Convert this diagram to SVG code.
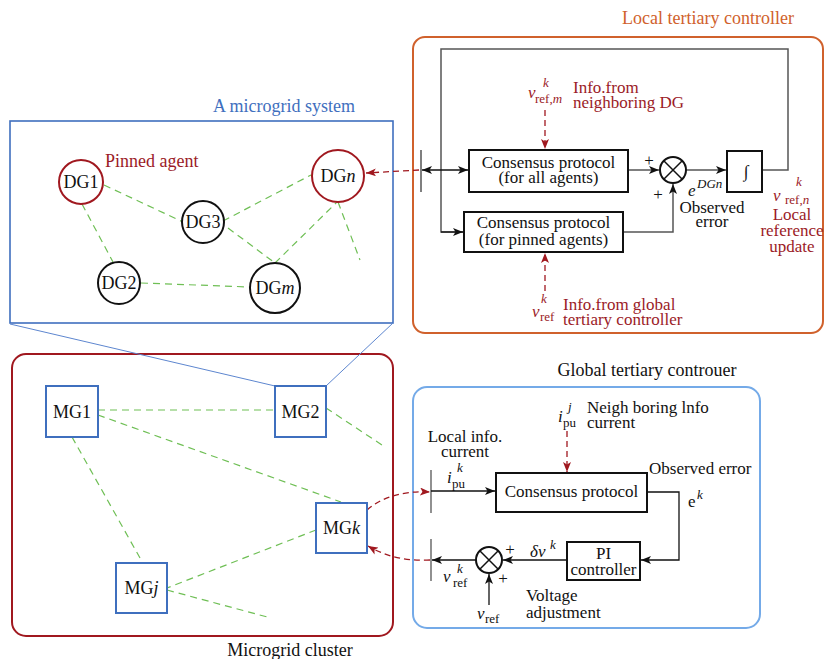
<svg xmlns="http://www.w3.org/2000/svg" width="824" height="659" viewBox="0 0 824 659">
  <style>
    text { font-family: "Liberation Serif", "Times New Roman", serif; font-size: 17px; fill: #111; }
    .red { fill: #9b1b27; }
    .orange { fill: #d0612c; }
    .blue { fill: #3f6fbe; }
    .it { font-style: italic; }
    .sm { font-size: 13px; }
    .big { font-size: 18px; }
    .mid { text-anchor: middle; }
    .blk { fill: #fff; stroke: #111; stroke-width: 2; }
    .dg { fill: #fff; stroke: #111; stroke-width: 2; }
    .dgp { fill: #fff; stroke: #a0181f; stroke-width: 2; }
    .mg { fill: #fff; stroke: #3f6fbe; stroke-width: 2; }
    .green { fill: none; stroke: #6fbf55; stroke-width: 1.2; stroke-dasharray: 7 5; }
    .wire { fill: none; stroke: #111; stroke-width: 1.3; }
    .grey { fill: none; stroke: #555; stroke-width: 1.5; }
    .rdash { fill: none; stroke: #a0181f; stroke-width: 1.3; stroke-dasharray: 6 4; }
    .thin { fill: none; stroke: #5d86cf; stroke-width: 1; }
  </style>
  <defs>
    <marker id="ah" viewBox="0 0 10 8" refX="10" refY="4" markerWidth="10" markerHeight="8" markerUnits="userSpaceOnUse" orient="auto-start-reverse">
      <path d="M0,0 L10,4 L0,8 L2.5,4 z" fill="#111"/>
    </marker>
    <marker id="ahr" viewBox="0 0 10 8" refX="10" refY="4" markerWidth="10" markerHeight="8" markerUnits="userSpaceOnUse" orient="auto-start-reverse">
      <path d="M0,0 L10,4 L0,8 L2.5,4 z" fill="#a0181f"/>
    </marker>
  </defs>

  <!-- frames and their titles -->
  <g id="frames">
    <rect x="413" y="37" width="410" height="296" rx="12" fill="none" stroke="#d0612c" stroke-width="2"/>
    <text x="708" y="24" class="orange mid big">Local tertiary controller</text>
    <rect x="10" y="121" width="383" height="202" fill="none" stroke="#3f6fbe" stroke-width="1.6"/>
    <text x="284" y="112" class="blue mid big">A microgrid system</text>
    <rect x="12" y="354" width="381" height="282" rx="14" fill="none" stroke="#a0181f" stroke-width="2"/>
    <text x="290" y="656" class="mid big">Microgrid cluster</text>
    <rect x="413" y="387" width="347" height="241" rx="14" fill="none" stroke="#74aae8" stroke-width="2"/>
    <text x="647" y="376" class="mid big">Global tertiary controuer</text>
  </g>

  <!-- connectors -->
  <g id="connectors">
    <!-- zoom lines from the microgrid system to MG2 -->
    <line x1="10" y1="324" x2="275" y2="386" class="thin"/>
    <line x1="393" y1="323" x2="326" y2="386" class="thin"/>

    <!-- DG communication graph -->
    <line x1="104" y1="185" x2="183" y2="222" class="green"/>
    <line x1="82" y1="204" x2="113" y2="262" class="green"/>
    <line x1="223" y1="221" x2="311" y2="175" class="green"/>
    <line x1="228" y1="228" x2="275" y2="263" class="green"/>
    <line x1="275" y1="263" x2="337" y2="202" class="green"/>
    <line x1="338" y1="202" x2="360" y2="260" class="green"/>
    <line x1="141" y1="283" x2="250" y2="287" class="green"/>

    <!-- MG communication graph -->
    <line x1="98" y1="410" x2="275" y2="410" class="green"/>
    <line x1="98" y1="415" x2="341" y2="502" class="green"/>
    <line x1="72" y1="437" x2="140" y2="558" class="green"/>
    <line x1="326" y1="408" x2="382" y2="445" class="green"/>
    <line x1="316" y1="530" x2="167" y2="588" class="green"/>
    <line x1="167" y1="590" x2="271" y2="618" class="green"/>

    <!-- local tertiary controller wiring -->
    <line x1="421" y1="150" x2="421" y2="192" stroke="#555" stroke-width="1.5"/>
    <polyline points="763,170 788,170 788,49 441,49 441,232 464,232" class="grey"/>
    <line x1="441" y1="232" x2="463" y2="232" class="wire" marker-end="url(#ah)"/>
    <line x1="422" y1="170" x2="468" y2="170" class="wire" marker-start="url(#ah)" marker-end="url(#ah)"/>
    <line x1="628" y1="170" x2="659" y2="170" class="grey" marker-end="url(#ah)"/>
    <line x1="686" y1="170" x2="726" y2="170" class="grey" marker-end="url(#ah)"/>
    <polyline points="623,232 673,232 673,184" class="grey" marker-end="url(#ah)"/>
    <line x1="545" y1="110" x2="545" y2="149" class="rdash" marker-end="url(#ahr)"/>
    <line x1="545" y1="291" x2="545" y2="253" class="rdash" marker-end="url(#ahr)"/>
    <line x1="419" y1="170" x2="366" y2="173" class="rdash" marker-end="url(#ahr)"/>

    <!-- global tertiary controller wiring -->
    <line x1="431" y1="470" x2="431" y2="513" stroke="#555" stroke-width="1.3"/>
    <line x1="431" y1="539" x2="431" y2="581" stroke="#555" stroke-width="1.3"/>
    <line x1="431" y1="491" x2="495" y2="491" class="wire" marker-end="url(#ah)"/>
    <line x1="567" y1="431" x2="567" y2="472" class="rdash" marker-end="url(#ahr)"/>
    <polyline points="647,492 679,492 679,560 641,560" class="wire" marker-end="url(#ah)"/>
    <line x1="567" y1="560" x2="503" y2="560" class="wire" marker-end="url(#ah)"/>
    <line x1="476" y1="560" x2="432" y2="560" class="wire" marker-end="url(#ah)"/>
    <line x1="489" y1="605" x2="489" y2="574" class="wire" marker-end="url(#ah)"/>
    <path d="M367,510 Q390,490 430,492" class="rdash" marker-end="url(#ahr)"/>
    <path d="M430,560 Q395,562 368,546" class="rdash" marker-end="url(#ahr)"/>
  </g>

  <!-- distributed generators -->
  <g id="dg1"><circle cx="81" cy="182" r="22" class="dgp"/><text x="81" y="188" class="mid big">DG1</text></g>
  <g id="dg2"><circle cx="119" cy="283" r="21" class="dg"/><text x="119" y="289" class="mid big">DG2</text></g>
  <g id="dg3"><circle cx="203" cy="222" r="21" class="dg"/><text x="203" y="228" class="mid big">DG3</text></g>
  <g id="dgn"><circle cx="338" cy="176" r="26" class="dgp"/><text x="338" y="182" class="mid big">DG<tspan class="it">n</tspan></text></g>
  <g id="dgm"><circle cx="275" cy="288" r="25" class="dg"/><text x="275" y="294" class="mid big">DG<tspan class="it">m</tspan></text></g>
  <text x="105" y="167" class="red big">Pinned agent</text>

  <!-- microgrids -->
  <g id="mg1"><rect x="46" y="386" width="52" height="51" class="mg"/><text x="72" y="418" class="mid big">MG1</text></g>
  <g id="mg2"><rect x="275" y="386" width="51" height="51" class="mg"/><text x="300.5" y="418" class="mid big">MG2</text></g>
  <g id="mgk"><rect x="316" y="503" width="51" height="50" class="mg"/><text x="341.5" y="534" class="mid big">MG<tspan class="it">k</tspan></text></g>
  <g id="mgj"><rect x="116" y="563" width="51" height="50" class="mg"/><text x="141.5" y="594" class="mid big">MG<tspan class="it">j</tspan></text></g>

  <!-- local tertiary controller blocks -->
  <g id="cons-all">
    <rect x="469" y="150" width="159" height="42" class="blk"/>
    <text x="548.5" y="168" class="mid">Consensus protocol</text>
    <text x="548.5" y="183" class="mid">(for all agents)</text>
  </g>
  <g id="cons-pinned">
    <rect x="464" y="212" width="159" height="40" class="blk"/>
    <text x="543.5" y="228" class="mid">Consensus protocol</text>
    <text x="543.5" y="245" class="mid">(for pinned agents)</text>
  </g>
  <g id="sum-local">
    <circle cx="673" cy="170" r="13" fill="#fff" stroke="#111" stroke-width="2"/>
    <path d="M664,161 L682,179 M682,161 L664,179" stroke="#111" stroke-width="1.5"/>
    <text x="649" y="166" class="mid">+</text>
    <text x="658" y="200" class="mid">+</text>
  </g>
  <g id="integrator">
    <rect x="727" y="151" width="35" height="41" class="blk"/>
    <text x="746" y="177" class="mid">∫</text>
  </g>
  <g id="local-labels">
    <text x="688" y="196" class="it">e</text>
    <text x="697" y="188" class="it sm">DGn</text>
    <text x="712" y="213" class="mid">Observed</text>
    <text x="712" y="227" class="mid">error</text>
    <text x="528" y="98" class="red it">v</text>
    <text x="543" y="87" class="red it sm">k</text>
    <text x="535" y="103" class="red sm">ref,<tspan class="it">m</tspan></text>
    <text x="573" y="93" class="red">Info.from</text>
    <text x="573" y="108" class="red">neighboring DG</text>
    <text x="532" y="317" class="red it">v</text>
    <text x="541" y="303" class="red it sm">k</text>
    <text x="540" y="321" class="red sm">ref</text>
    <text x="563" y="310" class="red">Info.from global</text>
    <text x="563" y="325" class="red">tertiary controller</text>
    <text x="773" y="201" class="red it">v</text>
    <text x="796" y="186" class="red it sm">k</text>
    <text x="785" y="204" class="red sm">ref,<tspan class="it">n</tspan></text>
    <text x="792" y="220" class="red mid">Local</text>
    <text x="792" y="236" class="red mid">reference</text>
    <text x="792" y="252" class="red mid">update</text>
  </g>

  <!-- global tertiary controller blocks -->
  <g id="cons-global">
    <rect x="496" y="473" width="151" height="39" class="blk"/>
    <text x="571.5" y="497" class="mid">Consensus protocol</text>
  </g>
  <g id="pi">
    <rect x="567" y="542" width="73" height="38" class="blk"/>
    <text x="603.5" y="559" class="mid">PI</text>
    <text x="603.5" y="575" class="mid">controller</text>
  </g>
  <g id="sum-global">
    <circle cx="489" cy="560" r="13" fill="#fff" stroke="#111" stroke-width="2"/>
    <path d="M480,551 L498,569 M498,551 L480,569" stroke="#111" stroke-width="1.5"/>
    <text x="510" y="555" class="mid">+</text>
    <text x="503" y="584" class="mid">+</text>
  </g>
  <g id="global-labels">
    <text x="558" y="422" class="it">i</text>
    <text x="568" y="411" class="it sm">j</text>
    <text x="563" y="427" class="sm">pu</text>
    <text x="587" y="413">Neigh boring lnfo</text>
    <text x="587" y="428">current</text>
    <text x="465" y="442" class="mid">Local info.</text>
    <text x="465" y="457" class="mid">current</text>
    <text x="447" y="483" class="it">i</text>
    <text x="457" y="472" class="it sm">k</text>
    <text x="452" y="488" class="sm">pu</text>
    <text x="649" y="474">Observed error</text>
    <text x="688" y="507">e</text>
    <text x="697" y="499" class="it sm">k</text>
    <text x="530" y="557" class="it">δv</text>
    <text x="550" y="549" class="it sm">k</text>
    <text x="443" y="582" class="it">v</text>
    <text x="457" y="573" class="it sm">k</text>
    <text x="453" y="587" class="sm">ref</text>
    <text x="477" y="619" class="it">v</text>
    <text x="485" y="623" class="sm">ref</text>
    <text x="526" y="601">Voltage</text>
    <text x="526" y="618">adjustment</text>
  </g>
</svg>
